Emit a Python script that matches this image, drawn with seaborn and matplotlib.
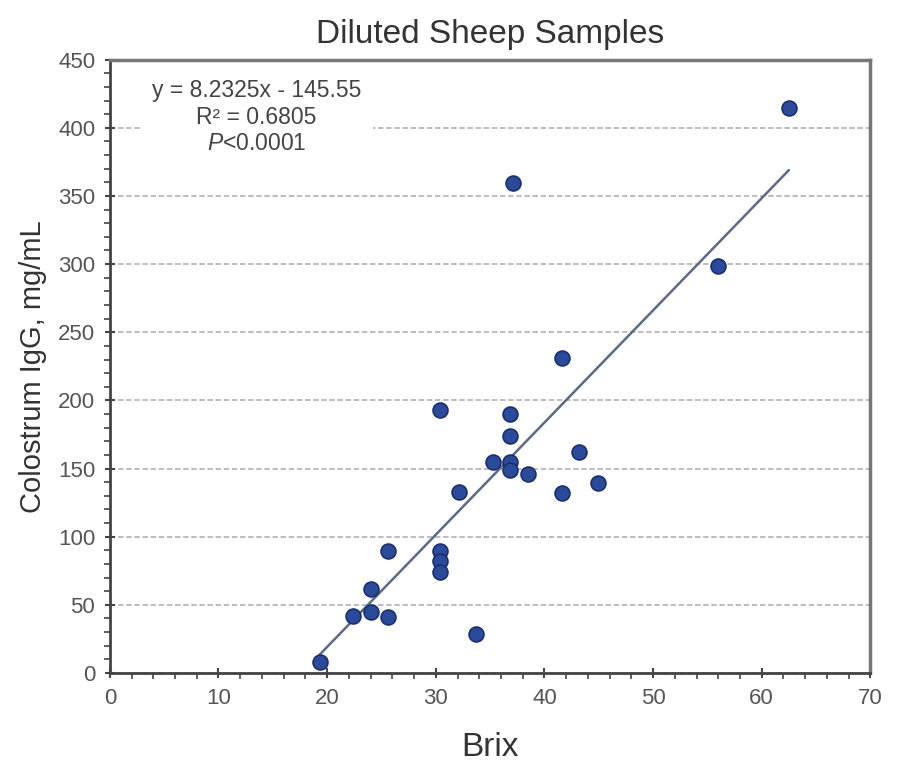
import numpy as np
import pandas as pd
import matplotlib
matplotlib.use("Agg")
import matplotlib.pyplot as plt
import seaborn as sns
from matplotlib.ticker import MultipleLocator

# Brix reading vs colostrum IgG (diluted sheep samples)
brix = [19.3, 22.4, 24.0, 24.0, 25.6, 25.6, 30.4, 30.4, 30.4, 30.4,
        32.1, 33.7, 35.25, 36.8, 36.8, 36.8, 36.8, 37.1, 38.45,
        41.65, 41.65, 43.2, 44.9, 56.0, 62.5]
igg = [8.3, 42.1, 61.5, 45.0, 89.8, 41.3, 192.6, 89.5, 82.0, 73.8,
       132.7, 28.6, 155.1, 190.1, 174.2, 155.1, 148.8, 359.7, 146.0,
       132.0, 231.3, 162.0, 139.3, 298.8, 414.8]
slope = 8.2325
intercept = -145.55
eq_lines = ["y = 8.2325x - 145.55", "R\u00b2 = 0.6805", r"$\it{P}$<0.0001"]

df = pd.DataFrame({"Brix": brix, "IgG": igg})

sns.set_theme(style="white")
plt.rcParams["font.family"] = ["Liberation Sans", "DejaVu Sans"]
plt.rcParams["mathtext.fontset"] = "custom"
plt.rcParams["mathtext.it"] = "Liberation Sans:italic"
plt.rcParams["mathtext.rm"] = "Liberation Sans"

fig = plt.figure(figsize=(9.23, 7.67), dpi=100)
ax = fig.add_axes([0.119, 0.1226, 0.824, 0.7996])

# trend line over the range of the data
xl = np.array([df["Brix"].min(), df["Brix"].max()])
sns.lineplot(x=xl, y=slope * xl + intercept, ax=ax, color="#5d6a86", lw=1.8, zorder=3)

sns.scatterplot(data=df, x="Brix", y="IgG", ax=ax, s=115, color="#2c4a9a",
                edgecolor="#1b2f6a", linewidth=1.2, zorder=4)

ax.set_xlim(0, 70)
ax.set_ylim(0, 450)
ax.xaxis.set_major_locator(MultipleLocator(10))
ax.xaxis.set_minor_locator(MultipleLocator(2))
ax.yaxis.set_major_locator(MultipleLocator(50))
ax.yaxis.set_minor_locator(MultipleLocator(10))

ax.grid(axis="y", which="major", color="#b8b8b8", ls=(0, (3, 1.5)), lw=1.3, zorder=0)
ax.set_axisbelow(True)

for side in ["left", "bottom"]:
    ax.spines[side].set_color("#444444")
    ax.spines[side].set_linewidth(2)
for side in ["top", "right"]:
    ax.spines[side].set_color("#777777")
    ax.spines[side].set_linewidth(2.5)

ax.tick_params(which="major", direction="inout", length=7, width=1.5, color="#444444",
               labelsize=16, labelcolor="#555555", bottom=True, left=True, pad=7)
ax.tick_params(which="minor", direction="out", length=4, width=1.2, color="#444444",
               bottom=True, left=True)

ax.set_xlabel("Brix", fontsize=24, color="#333333", labelpad=17)
ax.set_ylabel("Colostrum IgG, mg/mL", fontsize=21, color="#333333", labelpad=8)
ax.set_title("Diluted Sheep Samples", fontsize=24, color="#333333", pad=12)

ax.text(0.193, 0.968, "\n".join(eq_lines), transform=ax.transAxes, ha="center", va="top",
        fontsize=16.5, color="#444444", linespacing=1.2, zorder=5,
        bbox=dict(facecolor="white", edgecolor="none", boxstyle="square,pad=0.5"))

fig.savefig("out.png", dpi=100)
